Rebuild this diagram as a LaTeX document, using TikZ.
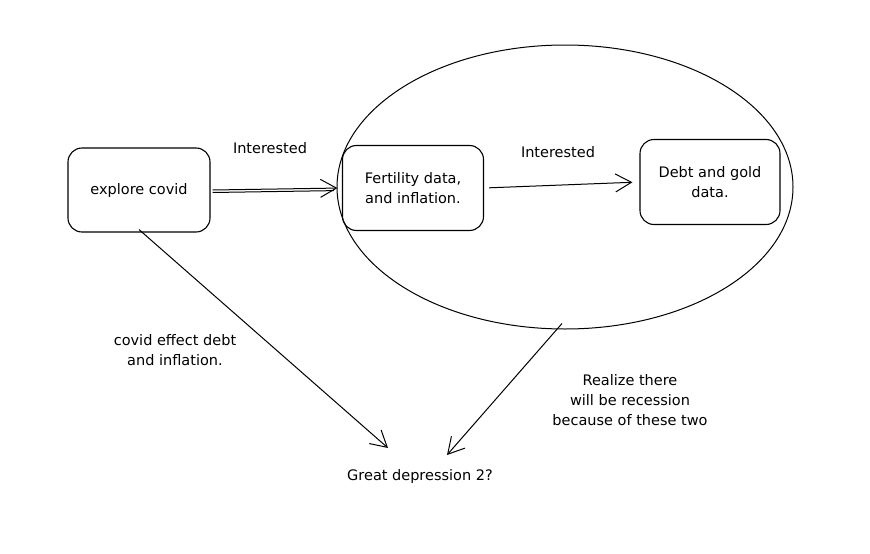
\documentclass[tikz,border=0pt]{standalone}
\usepackage{fontspec}
\setmainfont{DejaVu Sans}
\usetikzlibrary{arrows.meta,shapes.geometric}
\begin{document}
\begin{tikzpicture}[x=1pt,y=-1pt,
  box/.style={draw, line width=1.1pt, rounded corners=14pt, align=center, inner sep=0pt},
  txt/.style={font=\fontsize{14.5}{20}\selectfont, align=center},
  conn/.style={draw, line width=1pt, -{Straight Barb[length=16pt,width=18pt,line width=1pt]}},
]
\useasboundingbox (0,0) rectangle (870,554);
\node[box, txt, minimum width=142pt, minimum height=84pt] (ec) at (139,190) {explore covid};
\node[box, txt, minimum width=141pt, minimum height=85pt] (fd) at (413,188) {Fertility data,\\ and inflation.};
\node[box, txt, minimum width=140pt, minimum height=85pt] (dg) at (710,182) {Debt and gold\\ data.};
\node[draw, ellipse, line width=1pt, minimum width=456pt, minimum height=284pt, inner sep=0pt] (ell) at (565,187) {};
\node[txt] (gd) at (420,476) {Great depression 2?};
\coordinate (gdL) at (388,448);
\coordinate (gdR) at (447,455);
\node[txt] (l1) at (270,148) {Interested};
\node[txt] (l2) at (558,152) {Interested};
\node[txt] (l3) at (175,350) {covid effect debt\\ and inflation.};
\node[txt] (l4) at (630,400) {Realize there\\ will be recession\\ because of these two};
% connectors
\draw[line width=1pt, shorten >=8pt] ([shift={(2pt,-2.5pt)}]ec.east) -- ([yshift=-2.5pt]fd.west);
\path[conn, shorten >=4.5pt] ([xshift=2pt]ec.east) -- (fd.west);
\path[conn, shorten <=5pt, shorten >=7pt] (fd.east) -- (dg.west);
\path[conn] ([yshift=3pt]ec.south) -- (gdL);
\path[conn] ([shift={(-3pt,6pt)}]ell.south) -- (gdR);
\end{tikzpicture}
\end{document}
